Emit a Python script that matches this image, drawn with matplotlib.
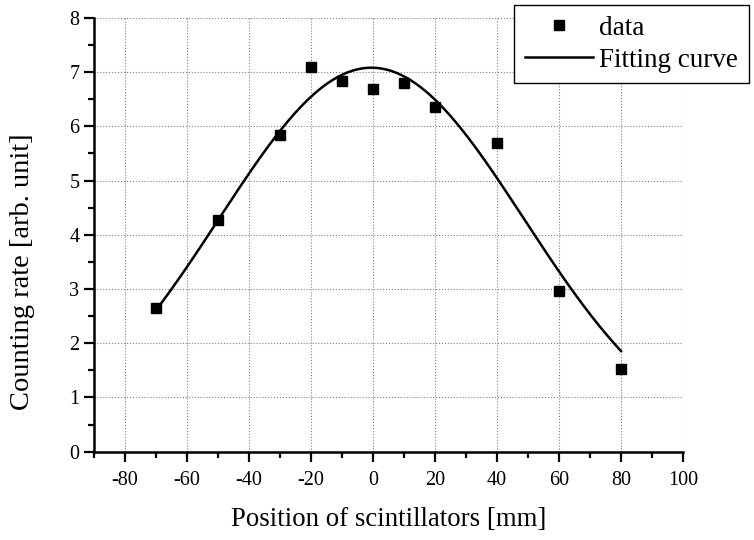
import numpy as np
import matplotlib.pyplot as plt
from matplotlib.ticker import MultipleLocator

plt.rcParams['font.family'] = ['Liberation Serif', 'DejaVu Serif']
plt.rcParams['axes.unicode_minus'] = False

# measured points
position = [-70, -50, -30, -20, -10, 0, 10, 20, 40, 60, 80]
rate = [2.65, 4.28, 5.84, 7.10, 6.83, 6.69, 6.80, 6.35, 5.70, 2.97, 1.52]

# gaussian fit parameters
fit_amp = 7.08
fit_center = -0.5
fit_width = 49.2
fit_offset = 0.0

x_fit = np.linspace(min(position), max(position), 300)
y_fit = fit_offset + fit_amp * np.exp(-(x_fit - fit_center) ** 2 / (2 * fit_width ** 2))

fig = plt.figure(figsize=(7.54, 5.4), dpi=100)
ax = fig.add_axes([0.1247, 0.1635, 0.7811, 0.8035])

ax.plot(position, rate, 's', color='black', markersize=7, label='data', zorder=3)
ax.plot(x_fit, y_fit, '-', color='black', linewidth=1.8, label='Fitting curve', zorder=2)

ax.set_xlim(-90, 100)
ax.set_ylim(0, 8)
ax.xaxis.set_major_locator(MultipleLocator(20))
ax.xaxis.set_minor_locator(MultipleLocator(10))
ax.yaxis.set_major_locator(MultipleLocator(1))
ax.yaxis.set_minor_locator(MultipleLocator(0.5))

ax.spines['top'].set_visible(False)
ax.spines['right'].set_visible(False)
ax.spines['left'].set_linewidth(1.8)
ax.spines['bottom'].set_linewidth(1.8)

ax.tick_params(which='major', direction='out', length=7, width=1.6, labelsize=14.5)
ax.tick_params(which='minor', direction='out', length=4, width=1.6)
ax.tick_params(axis='x', which='major', pad=7)

ax.grid(True, which='major', linestyle=':', color='gray', linewidth=0.8)

ax.set_xlabel('Position of scintillators [mm]', fontsize=19.3, labelpad=12)
ax.set_ylabel('Counting rate [arb. unit]', fontsize=20.5)
ax.yaxis.set_label_coords(-0.10, 0.416)

leg = ax.legend(loc='upper right', bbox_to_anchor=(749 / 754, 535 / 540),
                bbox_transform=fig.transFigure, fontsize=19.5,
                frameon=True, fancybox=False, edgecolor='black',
                borderaxespad=0, handlelength=2.5, handletextpad=0.25,
                labelspacing=0.25, borderpad=0.4)
leg.get_frame().set_linewidth(1.0)
leg.get_frame().set_alpha(1)

fig.savefig('out.png', dpi=100)
